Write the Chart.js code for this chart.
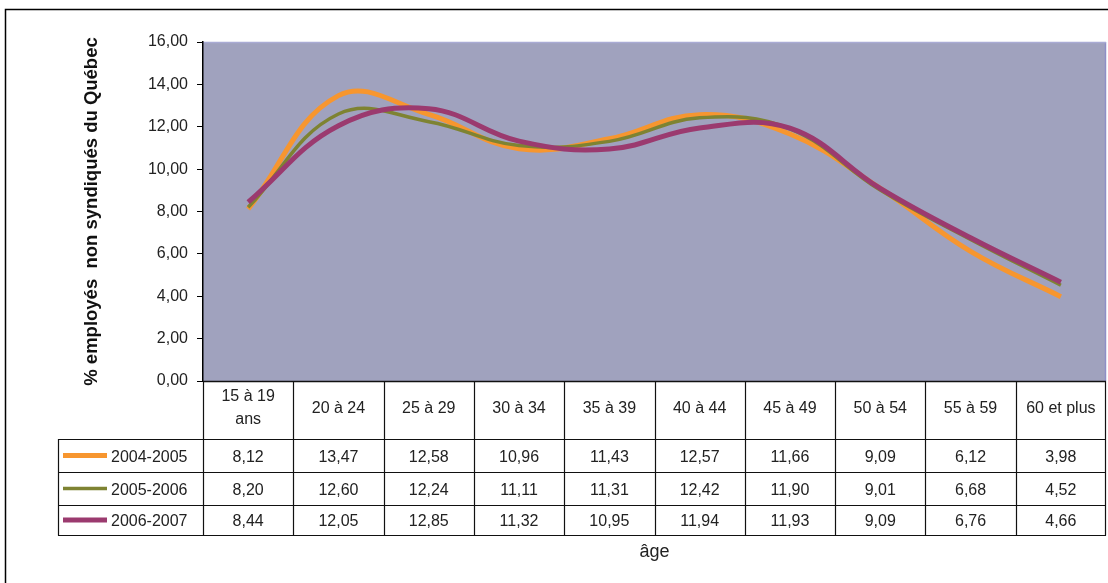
<!DOCTYPE html>
<html lang="fr">
<head>
<meta charset="utf-8">
<title>% employés non syndiqués du Québec selon l'âge</title>
<script src="https://cdn.jsdelivr.net/npm/chart.js@4.4.1/dist/chart.umd.min.js"></script>
<style>
  html, body { margin: 0; padding: 0; background: #ffffff; }
  #wrap { width: 1108px; height: 583px; }
</style>
</head>
<body>
<div id="wrap"><canvas id="chart" width="1108" height="583"></canvas></div>
<script>
// Age groups (first label wraps on two lines in the table header)
const categories = [['15 à 19', 'ans'], '20 à 24', '25 à 29', '30 à 34', '35 à 39',
  '40 à 44', '45 à 49', '50 à 54', '55 à 59', '60 et plus'];

// Share of non-unionized employees (%) per year
const seriesNames = ['2004-2005', '2005-2006', '2006-2007'];
const values2004 = [8.12, 13.47, 12.58, 10.96, 11.43, 12.57, 11.66, 9.09, 6.12, 3.98];
const values2005 = [8.20, 12.60, 12.24, 11.11, 11.31, 12.42, 11.90, 9.01, 6.68, 4.52];
const values2006 = [8.44, 12.05, 12.85, 11.32, 10.95, 11.94, 11.93, 9.09, 6.76, 4.66];

// Y axis range
const yMin = 0;
const yMax = 16;
const yStep = 2;

const seriesValues = [values2004, values2005, values2006];
const seriesColors = ['#F7962F', '#7E8332', '#9B3A6F'];
const seriesWidths = [5, 3.5, 5];
const seriesOrder = [2, 1, 0];

const FONT = '"Liberation Sans", Arial, sans-serif';
const fmt = v => v.toFixed(2).replace('.', ',');

// Plot background, outer frame and data table under the plot
const tablePlugin = {
  id: 'dataTable',
  beforeDraw(chart) {
    const { ctx, chartArea: a } = chart;
    ctx.save();
    ctx.fillStyle = '#A0A2BE';
    ctx.fillRect(a.left, a.top, a.right - a.left, a.bottom - a.top);
    ctx.strokeStyle = '#8E8FC6';
    ctx.lineWidth = 1.5;
    ctx.beginPath();
    ctx.moveTo(a.right - 0.5, a.top);
    ctx.lineTo(a.right - 0.5, a.bottom);
    ctx.stroke();
    ctx.strokeStyle = '#A9ABD4';
    ctx.beginPath();
    ctx.moveTo(a.left, a.top + 0.5);
    ctx.lineTo(a.right, a.top + 0.5);
    ctx.stroke();
    // outer frame
    ctx.strokeStyle = '#000';
    ctx.lineWidth = 1.5;
    ctx.beginPath();
    ctx.moveTo(5.5, 600);
    ctx.lineTo(5.5, 9.5);
    ctx.lineTo(1120, 9.5);
    ctx.stroke();
    ctx.restore();
  },
  afterDraw(chart) {
    const { ctx, chartArea: a, scales } = chart;
    const xs = scales.x;
    const n = categories.length;
    const colW = (a.right - a.left) / n;
    const headTop = a.bottom;
    const headBottom = 439;
    const rowTops = [439, 472, 505];
    const rowBottom = 535;
    const legendLeft = 58;

    ctx.save();
    ctx.strokeStyle = '#111';
    ctx.lineWidth = 1;

    const hline = (x1, x2, y) => {
      ctx.beginPath();
      ctx.moveTo(x1, Math.round(y) + 0.5);
      ctx.lineTo(x2, Math.round(y) + 0.5);
      ctx.stroke();
    };
    const vline = (x, y1, y2) => {
      ctx.beginPath();
      ctx.moveTo(Math.round(x) + 0.5, y1);
      ctx.lineTo(Math.round(x) + 0.5, y2);
      ctx.stroke();
    };
    // horizontal lines
    ctx.lineWidth = 1.5;
    hline(a.left, a.right, headTop);
    ctx.lineWidth = 1.2;
    hline(legendLeft, a.right, headBottom);
    hline(legendLeft, a.right, rowTops[1]);
    hline(legendLeft, a.right, rowTops[2]);
    hline(legendLeft, a.right, rowBottom);

    // vertical lines
    vline(legendLeft, headBottom, rowBottom + 0.5);
    for (let i = 0; i <= n; i++) {
      vline(a.left + i * colW - (i === n ? 1 : 0), headTop, rowBottom + 0.5);
    }

    ctx.fillStyle = '#222';
    ctx.font = '16px ' + FONT;
    ctx.textAlign = 'center';
    ctx.textBaseline = 'alphabetic';

    // header: category labels
    categories.forEach((lab, i) => {
      const cx = xs.getPixelForValue(i);
      if (Array.isArray(lab)) {
        ctx.fillText(lab[0], cx, 401);
        ctx.fillText(lab[1], cx, 424);
      } else {
        ctx.fillText(lab, cx, 412.5);
      }
    });

    // rows: legend key + values
    const rowH = [33, 33, 30];
    seriesNames.forEach((name, r) => {
      const base = rowTops[r] + rowH[r] / 2 + 6;
      const mid = rowTops[r] + rowH[r] / 2;
      ctx.strokeStyle = seriesColors[r];
      ctx.lineWidth = seriesWidths[r];
      ctx.beginPath();
      ctx.moveTo(63, mid);
      ctx.lineTo(107, mid);
      ctx.stroke();
      ctx.textAlign = 'left';
      ctx.fillText(name, 111, base);
      ctx.textAlign = 'center';
      seriesValues[r].forEach((v, i) => {
        ctx.fillText(fmt(v), xs.getPixelForValue(i), base);
      });
    });

    // x axis title
    ctx.font = '18px ' + FONT;
    ctx.fillText('âge', (a.left + a.right) / 2, 557);
    ctx.restore();
  }
};

const datasets = seriesNames.map((name, r) => ({
  label: name,
  data: seriesValues[r],
  borderColor: seriesColors[r],
  backgroundColor: seriesColors[r],
  borderWidth: seriesWidths[r],
  pointRadius: 0,
  pointHoverRadius: 0,
  tension: 0.4,
  fill: false,
  order: seriesOrder[r]
}));

new Chart(document.getElementById('chart'), {
  type: 'line',
  data: { labels: categories.map(c => Array.isArray(c) ? c.join(' ') : c), datasets },
  plugins: [tablePlugin],
  options: {
    responsive: false,
    devicePixelRatio: 1,
    animation: false,
    layout: { padding: { left: 0, top: 42, right: 2, bottom: 0 } },
    plugins: {
      legend: { display: false },
      tooltip: { enabled: false },
      title: { display: false }
    },
    scales: {
      x: {
        type: 'category',
        offset: true,
        grid: { display: false },
        border: { display: false },
        ticks: { display: false },
        afterFit(scale) { scale.height = 202; }
      },
      y: {
        min: yMin,
        max: yMax,
        ticks: {
          stepSize: yStep,
          padding: 9,
          color: '#222',
          font: { family: FONT, size: 16 },
          callback: v => fmt(v)
        },
        grid: {
          drawOnChartArea: false,
          drawTicks: true,
          tickLength: 6,
          color: '#000',
          lineWidth: 1
        },
        border: { display: true, color: '#000', width: 1.5 },
        title: {
          display: true,
          text: '% employés  non syndiqués du Québec',
          color: '#111',
          font: { family: FONT, size: 18.5, weight: 'bold' },
          padding: { top: 81, bottom: 0 }
        },
        afterFit(scale) { scale.width = 203; }
      }
    }
  }
});
</script>
</body>
</html>
